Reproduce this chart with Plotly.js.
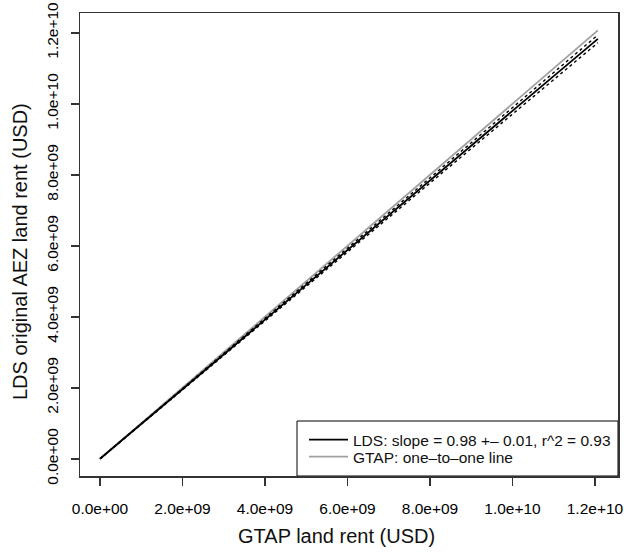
<!DOCTYPE html>
<html>
<head>
<meta charset="utf-8">
<script src="https://cdn.plot.ly/plotly-3.0.1.min.js"></script>
<style>html,body{margin:0;padding:0;background:#fff;}#chart{width:624px;height:552px;}</style>
</head>
<body>
<div id="chart"></div>
<script>
// Tick positions and labels (same for both axes)
var tickValues = [0, 2e9, 4e9, 6e9, 8e9, 1e10, 1.2e10];
var tickLabels = ["0.0e+00", "2.0e+09", "4.0e+09", "6.0e+09", "8.0e+09", "1.0e+10", "1.2e+10"];

// Line end points
var gtapX = [0, 1.207e10];          // GTAP land rent span
var oneToOneY = [0, 1.207e10];      // GTAP one-to-one line
var ldsFitY = [0, 1.183e10];        // LDS fitted line (slope 0.98)
var ldsUpperY = [0, 1.194e10];      // upper dashed band
var ldsLowerY = [0, 1.172e10];      // lower dashed band

var legendLDS = "LDS: slope = 0.98 +\u2013 0.01, r^2 = 0.93";
var legendGTAP = "GTAP: one\u2013to\u2013one line";

var axisRange = [-4.85e8, 1.2558e10];

var traces = [
  {x: gtapX, y: oneToOneY, mode: 'lines', name: legendGTAP,
   line: {color: '#a0a0a0', width: 1.8}, legend: 'legend2'},
  {x: gtapX, y: ldsUpperY, mode: 'lines', showlegend: false,
   line: {color: '#000', width: 1.4, dash: '3px,3px'}},
  {x: gtapX, y: ldsLowerY, mode: 'lines', showlegend: false,
   line: {color: '#000', width: 1.4, dash: '3px,3px'}},
  {x: gtapX, y: ldsFitY, mode: 'lines', name: legendLDS,
   line: {color: '#000', width: 1.8}, legend: 'legend'}
];

var fontFam = '"Liberation Sans", Arial, Helvetica, sans-serif';

var axisCommon = {
  range: axisRange,
  tickvals: tickValues,
  ticktext: tickLabels,
  ticks: 'outside',
  ticklen: 8,
  tickwidth: 1.5,
  tickcolor: '#333',
  showline: true,
  mirror: true,
  linecolor: '#333',
  linewidth: 1.5,
  showgrid: false,
  zeroline: false,
  tickfont: {family: fontFam, size: 15.5, color: '#000'}
};

// legend frame in paper coordinates (left, bottom, right, top)
var lgL = (297 - 80) / 538, lgR = 1, lgB = 0, lgT = (476 - 421) / 463;

var legendCommon = {
  xanchor: 'left', yanchor: 'top',
  bgcolor: 'rgba(0,0,0,0)', borderwidth: 0,
  itemwidth: 39,
  font: {family: fontFam, size: 15.5, color: '#111'}
};

var layout = {
  width: 624, height: 552,
  margin: {l: 80, r: 6, t: 13, b: 76},
  paper_bgcolor: '#fff', plot_bgcolor: '#fff',
  showlegend: true,
  font: {family: fontFam, color: '#111'},
  xaxis: Object.assign({}, axisCommon, {ticklabelstandoff: 10}),
  yaxis: Object.assign({}, axisCommon, {tickangle: -90, ticklabelstandoff: 6}),
  legend: Object.assign({}, legendCommon, {x: (304 - 80) / 538, y: (476 - 423) / 463}),
  legend2: Object.assign({}, legendCommon, {x: (304 - 80) / 538, y: (476 - 440) / 463}),
  shapes: [
    {type: 'rect', xref: 'paper', yref: 'paper', x0: lgL, x1: lgR, y0: lgB, y1: lgT,
     line: {color: '#000', width: 1}, fillcolor: '#fff', layer: 'below'}
  ],
  annotations: [
    {text: 'GTAP land rent (USD)', xref: 'paper', yref: 'paper',
     x: 0.4768, y: -0.1296, xanchor: 'center', yanchor: 'middle', showarrow: false,
     font: {family: fontFam, size: 20, color: '#111'}},
    {text: 'LDS original AEZ land rent (USD)', xref: 'paper', yref: 'paper',
     x: -0.1115, y: 0.4838, xanchor: 'center', yanchor: 'middle', showarrow: false,
     textangle: -90, font: {family: fontFam, size: 20, color: '#111'}}
  ]
};

Plotly.newPlot('chart', traces, layout, {displayModeBar: false, staticPlot: true});
</script>
</body>
</html>
